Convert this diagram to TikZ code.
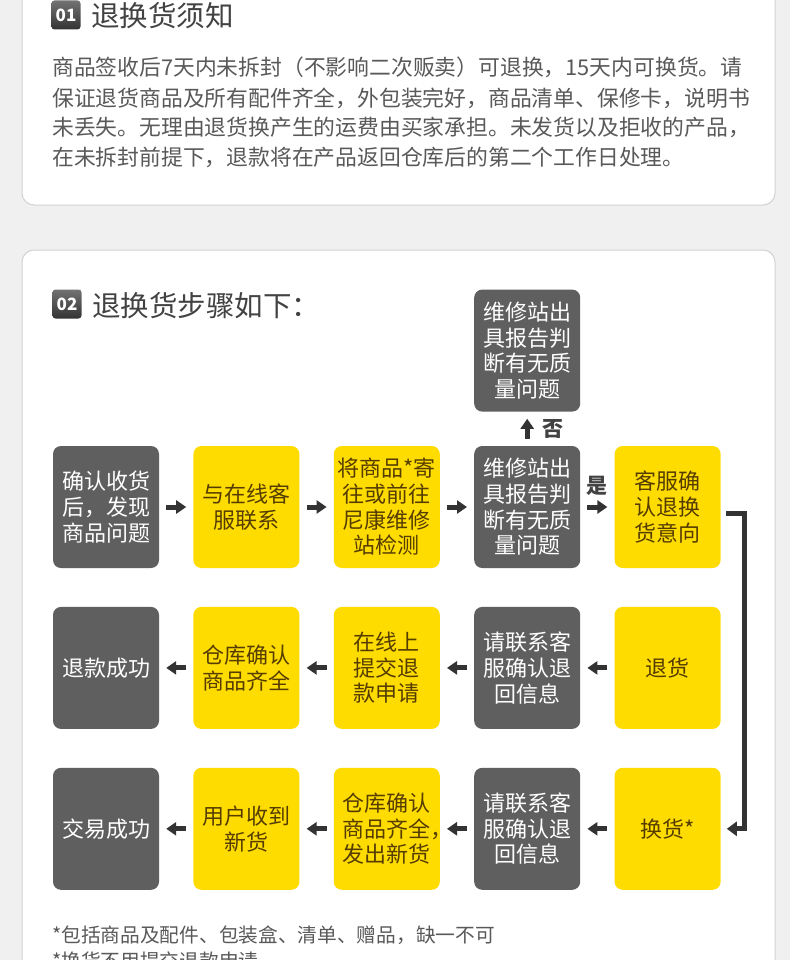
\documentclass[tikz,border=0pt]{standalone}
\usepackage{fontspec}
\setmainfont{Noto Sans CJK SC}
\usetikzlibrary{arrows.meta,positioning}
\definecolor{pagegray}{HTML}{F0F0F0}
\definecolor{cardline}{HTML}{D2D2D2}
\definecolor{boxgray}{HTML}{5F5F5F}
\definecolor{boxyellow}{HTML}{FFDC00}
\definecolor{yellowtext}{HTML}{553D00}
\definecolor{arrowgray}{HTML}{333333}
\definecolor{headtext}{HTML}{424242}
\definecolor{bodytext}{HTML}{595959}
\newlength{\BoxWidth}
\newlength{\BoxHeight}
\newlength{\ColGap}
\newlength{\RowGap}
\setlength{\BoxWidth}{106pt}
\setlength{\BoxHeight}{122pt}
\setlength{\ColGap}{34pt}
\setlength{\RowGap}{38.5pt}
\tikzset{
  card/.style={draw=cardline, line width=1pt, fill=white, rounded corners=12pt},
  badge/.style={rounded corners=3pt, top color=black!55, bottom color=black!80, text=white,
    minimum width=29pt, minimum height=29pt, inner sep=0pt,
    font=\bfseries\fontsize{17pt}{17pt}\selectfont},
  heading/.style={anchor=west, inner sep=0pt, text=headtext, font=\fontsize{28.5pt}{30pt}\selectfont},
  body line/.style={anchor=west, inner sep=0pt, text=bodytext, font=\fontsize{21.8pt}{26pt}\selectfont},
  note line/.style={anchor=west, inner sep=0pt, text=bodytext, font=\fontsize{19.7pt}{22pt}\selectfont},
  step box/.style={rounded corners=8pt, minimum width=\BoxWidth, minimum height=\BoxHeight,
    inner sep=0pt, align=center, font=\fontsize{22pt}{25.7pt}\selectfont},
  dark step/.style={step box, fill=boxgray, text=white},
  yellow step/.style={step box, fill=boxyellow, text=yellowtext},
  flow arrow/.style={draw=arrowgray, line width=5pt, -{Triangle[length=10pt,width=13pt]},
    shorten <=7pt, shorten >=7pt},
  rail/.style={draw=arrowgray, line width=5pt, -{Triangle[length=10pt,width=14pt]}},
  answer/.style={inner sep=0pt, text=headtext, font=\bfseries\fontsize{21pt}{21pt}\selectfont},
}

\begin{document}
\begin{tikzpicture}[x=1pt, y=-1pt, node distance=\RowGap and \ColGap]
  \useasboundingbox (0,0) rectangle (790,960);
  \fill[pagegray] (0,0) rectangle (790,960);
  \draw[card] (22,-20) rectangle (775,205);
  \draw[card] (22,250) rectangle (775,990);

  % notice
  \node[badge] (badge1) at (66,15) {01};
  \node[heading] (title1) at (91,16) {退换货须知};
  \node[body line] (rule1) at (52,67) {商品签收后7天内未拆封（不影响二次贩卖）可退换，15天内可换货。请};
  \node[body line] (rule2) at (52,98) {保证退货商品及所有配件齐全，外包装完好，商品清单、保修卡，说明书};
  \node[body line] (rule3) at (52,127) {未丢失。无理由退货换产生的运费由买家承担。未发货以及拒收的产品，};
  \node[body line] (rule4) at (52,157) {在未拆封前提下，退款将在产品返回仓库后的第二个工作日处理。};

  % steps
  \node[badge] (badge2) at (67,304) {02};
  \node[heading] (title2) at (92,306) {退换货步骤如下：};

  \node[dark step] (problem) at (106,507) {确认收货\\后，发现\\商品问题};
  \node[yellow step, right=of problem] (contact) {与在线客\\服联系};
  \node[yellow step, right=of contact] (send) {将商品*寄\\往或前往\\尼康维修\\站检测};
  \node[dark step, right=of send] (check) {维修站出\\具报告判\\断有无质\\量问题};
  \node[yellow step, right=of check] (intent) {客服确\\认退换\\货意向};
  \node[dark step, above=34pt of check] (report) {维修站出\\具报告判\\断有无质\\量问题};

  % refund row
  \node[yellow step, below=of intent] (giveback) {退货};
  \node[dark step, left=of giveback] (confirm) {请联系客\\服确认退\\回信息};
  \node[yellow step, left=of confirm] (apply) {在线上\\提交退\\款申请};
  \node[yellow step, left=of apply] (stock) {仓库确认\\商品齐全};
  \node[dark step, left=of stock] (refundok) {退款成功};

  % exchange row
  \node[yellow step, below=of giveback] (exchange) {换货*};
  \node[dark step, left=of exchange] (confirmx) {请联系客\\服确认退\\回信息};
  \node[yellow step, left=of confirmx] (ship) {仓库确认\\商品齐全\rlap{，}\\发出新货};
  \node[yellow step, left=of ship] (received) {用户收到\\新货};
  \node[dark step, left=of received] (dealok) {交易成功};

  \draw[flow arrow] (problem) -- (contact);
  \draw[flow arrow] (contact) -- (send);
  \draw[flow arrow] (send) -- (check);
  \draw[flow arrow] (check) -- node[answer, above=9pt] (yes) {是} (intent);
  \draw[flow arrow] (check) -- node[answer, right=13pt] (no) {否} (report);
  \draw[rail] ([xshift=5pt,yshift=-6pt]intent.east) -| ([xshift=24pt]exchange.east)
    -- ([xshift=6pt]exchange.east);

  \draw[flow arrow] (giveback) -- (confirm);
  \draw[flow arrow] (confirm) -- (apply);
  \draw[flow arrow] (apply) -- (stock);
  \draw[flow arrow] (stock) -- (refundok);

  \draw[flow arrow] (exchange) -- (confirmx);
  \draw[flow arrow] (confirmx) -- (ship);
  \draw[flow arrow] (ship) -- (received);
  \draw[flow arrow] (received) -- (dealok);

  \node[note line] (note1) at (52,935) {*包括商品及配件、包装盒、清单、赠品，缺一不可};
  \node[note line] (note2) at (52,961) {*换货不用提交退款申请};
\end{tikzpicture}
\end{document}
